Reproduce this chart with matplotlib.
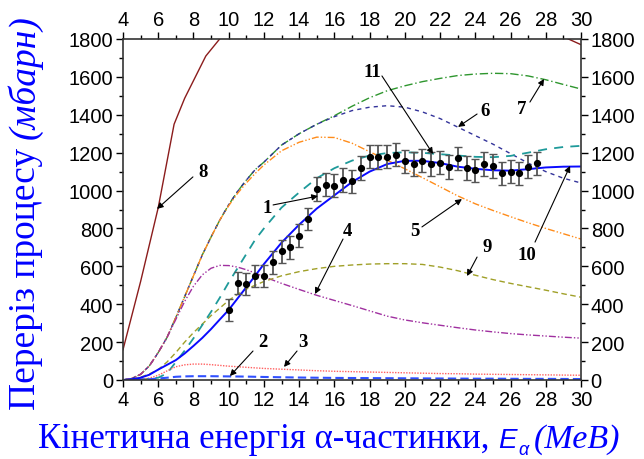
import matplotlib
matplotlib.use("Agg")
import numpy as np
import matplotlib.pyplot as plt
from matplotlib.font_manager import FontProperties
from matplotlib.ticker import MultipleLocator

# ---- measured cross section (curve 1) ----
E_exp = [10.0, 10.5, 11.0, 11.5, 12.0, 12.5, 13.0, 13.5, 14.0, 14.5, 15.0, 15.5,
         16.0, 16.5, 17.0, 17.5, 18.0, 18.5, 19.0, 19.5, 20.0, 20.5, 21.0, 21.5,
         22.0, 22.5, 23.0, 23.5, 24.0, 24.5, 25.0, 25.5, 26.0, 26.5, 27.0, 27.5]
sigma_exp = [370, 512, 507, 551, 551, 621, 679, 700, 762, 850, 1008, 1030,
             1026, 1056, 1049, 1119, 1179, 1176, 1179, 1190, 1154, 1139, 1158, 1139,
             1148, 1125, 1170, 1118, 1107, 1139, 1130, 1091, 1100, 1091, 1126, 1144]
sigma_err = [58, 58, 58, 58, 58, 59, 59, 59, 60, 60, 61, 61,
             61, 61, 61, 62, 62, 62, 62, 62, 62, 62, 62, 62,
             62, 62, 62, 62, 62, 62, 62, 62, 62, 62, 62, 62]

# ---- model calculations (curves 2-7, 9-11) ----
E_th = [4, 4.5, 5, 5.5, 6, 6.5, 7, 7.5, 8, 8.5, 9, 9.5, 10, 10.5, 11, 11.5, 12,
        13, 14, 15, 16, 17, 18, 19, 20, 21, 22, 23, 24, 25, 26, 27, 28, 29, 30]
sig2 = [0, 0.5, 2, 4, 8, 12, 17, 19, 20, 20, 20, 19.5, 19, 18.5, 18, 17, 16,
        14.5, 13, 12, 11, 10.5, 10, 9.5, 9, 8.5, 8, 7.5, 7, 7, 6.5, 6, 6, 5.5, 5]
sig3 = [0, 1, 4, 10, 25, 48, 70, 80, 84, 84, 81, 77, 73, 70, 67, 64, 61,
        57, 53, 49, 46, 44, 42, 40, 38, 36, 34, 33, 31, 30, 29, 28, 27, 26, 25]
sig4 = [0, 8, 30, 75, 145, 225, 320, 415, 495, 555, 590, 605, 604, 596, 582, 565, 545,
        510, 478, 447, 420, 393, 365, 337, 317, 302, 289, 276, 264, 254, 245, 238, 232, 226, 221]
sig5 = [0, 8, 30, 75, 145, 225, 330, 440, 550, 660, 755, 845, 920, 985, 1040, 1090, 1135,
        1210, 1255, 1282, 1280, 1250, 1205, 1160, 1115, 1068, 1020, 972, 930, 895, 862, 830, 800, 772, 744]
sig6 = [0, 8, 30, 75, 145, 225, 330, 440, 550, 660, 755, 845, 925, 995, 1055, 1110, 1150,
        1240, 1300, 1350, 1390, 1422, 1440, 1448, 1440, 1415, 1380, 1335, 1290, 1245, 1195, 1145, 1100, 1065, 1040]
sig7 = [0, 8, 30, 75, 145, 225, 330, 440, 550, 660, 755, 845, 925, 995, 1055, 1110, 1150,
        1240, 1300, 1350, 1395, 1445, 1490, 1527, 1553, 1575, 1592, 1607, 1615, 1619, 1617, 1605, 1585, 1560, 1536]
sig9 = [0, 5, 15, 32, 55, 95, 145, 200, 250, 295, 340, 380, 420, 452, 480, 500, 520,
        550, 572, 588, 600, 607, 612, 614, 614, 610, 596, 577, 553, 530, 510, 492, 474, 455, 437]
sig10 = [0, 4, 12, 28, 55, 80, 105, 140, 180, 222, 269, 320, 370, 430, 490, 550, 612,
         725, 820, 905, 975, 1045, 1100, 1140, 1157, 1157, 1145, 1126, 1115, 1107, 1105, 1113, 1122, 1126, 1127]
sig11 = [0, 1, 3, 7, 12, 35, 95, 155, 220, 290, 360, 435, 515, 590, 665, 740, 800,
         910, 990, 1065, 1118, 1158, 1185, 1198, 1202, 1199, 1192, 1185, 1178, 1176, 1183, 1200, 1218, 1230, 1236]

# curve 8 leaves the frame above 1800 mb and comes back near 30 MeV
E8_low = [4, 5, 6, 6.9, 7.5, 8.7, 9.6]
sig8_low = [160, 520, 910, 1350, 1487, 1710, 1813]
E8_high = [29.0, 30.0]
sig8_high = [1812, 1770]

x_ticks = [4, 6, 8, 10, 12, 14, 16, 18, 20, 22, 24, 26, 28, 30]
y_ticks = [0, 200, 400, 600, 800, 1000, 1200, 1400, 1600, 1800]

W, H = 644, 460
fig = plt.figure(figsize=(W / 100, H / 100), dpi=100)
ax = fig.add_axes([123 / W, 1 - 381 / H, 458 / W, 341 / H])

# model curves
ax.plot(E8_low, sig8_low, color="#8B1C1C", lw=1.0)
ax.plot(E8_high, sig8_high, color="#8B1C1C", lw=1.0)
ax.plot(E_th, sig7, color="#2E962E", lw=1.0, dashes=(6, 2, 1, 2))
ax.plot(E_th, sig6, color="#33339A", lw=1.0, dashes=(3, 3))
ax.plot(E_th, sig5, color="#FF8C1A", lw=1.0, dashes=(5, 1.5, 1, 1.5, 1, 1.5))
ax.plot(E_th, sig4, color="#A030A0", lw=1.0, dashes=(5, 1.5, 1, 1.5, 1, 1.5))
ax.plot(E_th, sig9, color="#A0A028", lw=1.0, dashes=(4, 2.5))
ax.plot(E_th, sig11, color="#1E9A9A", lw=1.3, dashes=(5, 4))
ax.plot(E_th, sig3, color="#FF6060", lw=1.0, dashes=(1, 1))
ax.plot(E_th, sig2, color="#3050FF", lw=1.5, dashes=(4, 2))
ax.plot(E_th, sig10, color="#0A0AFF", lw=1.4)

# measured points
eb = ax.errorbar(E_exp, sigma_exp, yerr=sigma_err, fmt="o", color="black",
                 ms=4.2, ecolor="#555555", elinewidth=1.3, capsize=3.2,
                 capthick=1.0, zorder=5)
for cap in eb[1]:
    cap.set_color("black")

ax.set_xlim(4, 30)
ax.set_ylim(0, 1800)
ax.set_xticks(x_ticks)
ax.set_yticks(y_ticks)
ax.xaxis.set_minor_locator(MultipleLocator(1))
ax.yaxis.set_minor_locator(MultipleLocator(100))

tick_font = "Liberation Sans"
ax.tick_params(which="both", direction="out", top=True, right=True,
               labeltop=True, labelright=True, labelsize=14.5, colors="black",
               width=1.0)
ax.tick_params(which="major", length=5)
ax.tick_params(which="minor", length=3)
for lbl in ax.get_xticklabels() + ax.get_yticklabels():
    lbl.set_fontfamily(tick_font)
ax.xaxis.set_tick_params(pad=2)
ax.yaxis.set_tick_params(pad=2)
for sp in ax.spines.values():
    sp.set_linewidth(1.2)
    sp.set_color("#333333")

# curve numbers with pointer arrows: (label, text pos, arrow tail, arrow tip)
labels = [
    ("8", (8.54, 1098), (7.97, 1072), (5.93, 903)),
    ("1", (12.17, 913), (12.52, 924), (15.07, 971)),
    ("2", (11.95, 201), (11.38, 153), (10.07, 21)),
    ("3", (14.22, 201), (13.88, 153), (13.14, 69)),
    ("4", (16.72, 787), (16.49, 744), (14.9, 454)),
    ("5", (20.58, 787), (20.97, 808), (23.24, 955)),
    ("6", (24.55, 1420), (24.1, 1404), (23.02, 1336)),
    ("7", (26.65, 1431), (27.1, 1467), (27.9, 1589)),
    ("9", (24.66, 707), (24.1, 649), (23.53, 549)),
    ("10", (26.93, 665), (27.39, 728), (29.38, 1130)),
    ("11", (18.14, 1631), (18.7, 1605), (21.6, 1193)),
]
for txt, tpos, tail, tip in labels:
    ax.text(tpos[0], tpos[1], txt, fontfamily="Liberation Serif",
            fontweight="bold", fontsize=13.5, ha="center", va="center", zorder=6)
    ax.annotate("", xy=tip, xytext=tail,
                arrowprops=dict(arrowstyle="-|>", color="black", lw=0.8,
                                mutation_scale=9, shrinkA=0, shrinkB=0),
                zorder=6)

# axis titles built from pieces in different faces
blue = "#0000FF"
renderer = fig.canvas.get_renderer()
serif = FontProperties(family="Liberation Serif", size=25)
serif_it = FontProperties(family="Liberation Serif", style="italic", size=24.5)
sans_it = FontProperties(family="Liberation Sans", style="italic", size=20)
sans_it_small = FontProperties(family="Liberation Sans", style="italic", size=13)

x = 38.0
base = 12.0
xpieces = [("Кінетична енергія α-частинки,", serif, 0, 9),
           ("E", sans_it, 0, 1),
           ("α", sans_it_small, -7, 6),
           ("(МеВ)", serif_it, 0, 0)]
for s, fp, dy, gap in xpieces:
    t = fig.text(x / W, (base + dy) / H, s, fontproperties=fp, color=blue,
                 ha="left", va="baseline")
    bb = t.get_window_extent(renderer)
    x += bb.width + gap

y = 50.0
xb = 35.0
ypieces = [("Переріз процесу", FontProperties(family="Liberation Serif", size=27), 9),
           ("(мбарн)", FontProperties(family="Liberation Serif", style="italic", size=27), 0)]
for s, fp, gap in ypieces:
    t = fig.text(xb / W, y / H, s, fontproperties=fp, color=blue, rotation=90,
                 rotation_mode="anchor", ha="left", va="baseline")
    bb = t.get_window_extent(renderer)
    y += bb.height + gap

fig.savefig("out.png", dpi=100)
